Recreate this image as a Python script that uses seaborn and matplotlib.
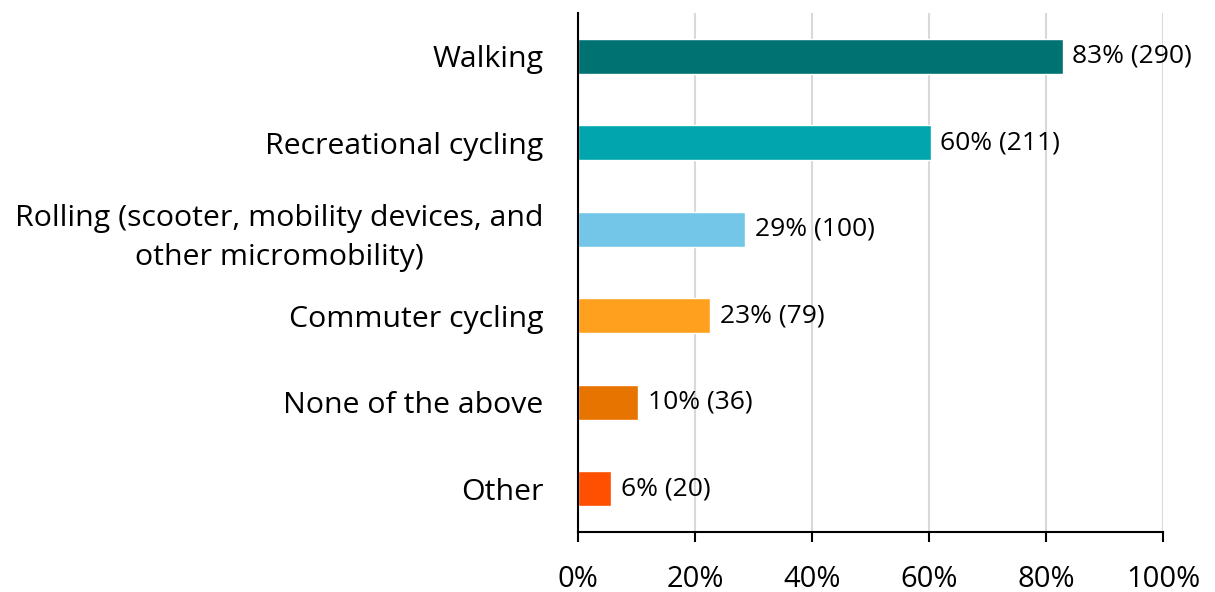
import matplotlib
matplotlib.use("Agg")
import matplotlib.pyplot as plt
import seaborn as sns
import pandas as pd
from matplotlib.ticker import PercentFormatter

categories = ["Walking", "Recreational cycling",
              "Rolling (scooter, mobility devices, and\nother micromobility)",
              "Commuter cycling", "None of the above", "Other"]
percents = [82.9, 60.3, 28.6, 22.6, 10.3, 5.7]
counts = [290, 211, 100, 79, 36, 20]
colors = ["#007272", "#00A5AE", "#73C6E8", "#FFA11F", "#E87400", "#FF4F00"]
xticks = [0, 20, 40, 60, 80, 100]

sns.set_theme(style="white")
plt.rcParams['font.family'] = ['Open Sans', 'DejaVu Sans']

df = pd.DataFrame({"category": categories, "percent": percents, "count": counts})

fig = plt.figure(figsize=(12.15, 5.92), dpi=100)
ax = fig.add_axes([578/1215, 1-532/592, (1163-578)/1215, (532-13)/592])

sns.barplot(data=df, y="category", x="percent", hue="category",
            palette=colors, orient="h", width=0.4, legend=False, ax=ax,
            saturation=1)

for i, (p, c) in enumerate(zip(percents, counts)):
    ax.text(p + 1.6, i, f"{round(p)}% ({c})", va="center", ha="left",
            fontsize=19, color="black")

ax.set_xlim(0, 100)
ax.set_ylim(5.5, -0.5)
ax.set_xticks(xticks)
ax.xaxis.set_major_formatter(PercentFormatter(decimals=0))
ax.grid(axis="x", color="#D9D9D9", linewidth=1.5)
ax.set_axisbelow(True)
ax.set_xlabel("")
ax.set_ylabel("")
for s in ["top", "right"]:
    ax.spines[s].set_visible(False)
for s in ["left", "bottom"]:
    ax.spines[s].set_color("black")
    ax.spines[s].set_linewidth(1.5)
ax.tick_params(axis="x", length=7, width=1.5, color="black", labelsize=21,
               pad=17, bottom=True, labelcolor="black")
ax.tick_params(axis="y", length=0, labelsize=21.8, pad=25, labelcolor="black")
for lbl in ax.get_yticklabels():
    lbl.set_multialignment("center")
    lbl.set_linespacing(1.45)

fig.savefig("out.png", dpi=100)
